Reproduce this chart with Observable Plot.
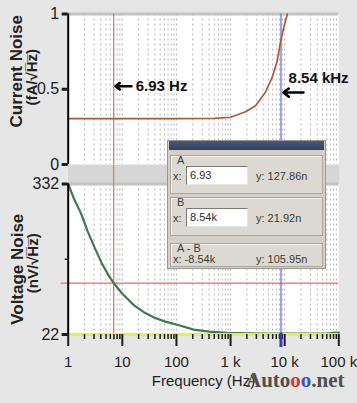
<!DOCTYPE html>
<html><head><meta charset="utf-8">
<script src="https://cdn.jsdelivr.net/npm/d3@7"></script>
<script src="https://cdn.jsdelivr.net/npm/@observablehq/plot@0.6"></script>
<style>
html,body{margin:0;padding:0;background:#e6e6e6;}
#wrap{position:relative;width:357px;height:403px;overflow:hidden;background:#e6e6e6;}
#top,#bot{position:absolute;left:0;}
#top{top:0;}
#bot{top:165px;}
#band{position:absolute;left:68px;top:164px;width:271px;height:19px;background:#d6d6d6;}
#dlg{position:absolute;left:167px;top:140px;width:159px;height:129px;background:#d4d0c8;border:1px solid #9a978f;box-sizing:border-box;
  font-family:"Liberation Sans Narrow","Arial Narrow","Liberation Sans",sans-serif;font-size:11px;color:#3a3a3a;}
#dlg .tb{position:absolute;left:1px;right:1px;top:0;height:9px;background:linear-gradient(#4a5878,#34415e);}
#dlg .sec{position:absolute;left:2px;right:2px;background:#dcd9d2;border:1px solid #a9a69e;box-shadow:inset 1px 1px 0 #f4f2ee;box-sizing:border-box;}
#dlg .t{position:absolute;line-height:11px;white-space:nowrap;}
#dlg .inp{position:absolute;left:15px;width:62px;height:19px;background:#fff;border:1px solid #7d7a73;border-right-color:#e8e6e0;border-bottom-color:#e8e6e0;box-sizing:border-box;line-height:17px;padding-left:3px;color:#2a2a2a;}
#wm{position:absolute;left:246px;top:370px;font-family:"Liberation Serif","DejaVu Serif",serif;font-weight:bold;font-size:21px;line-height:21px;color:#4e4e4e;white-space:nowrap;}
</style></head><body>
<div id="wrap">
  <div id="band"></div>
  <div id="top"></div>
  <div id="bot"></div>
  <div id="dlg"></div>
  <div id="wm"></div>
</div>
<script>
// ---- data ----
const freqTicks = [1, 10, 100, 1000, 10000, 100000];
const freqLabels = ["1", "10", "100", "1 k", "10 k", "100 k"];
const minorMultipliers = [2, 3, 4, 5, 6, 7, 8, 9];
const currentTicks = [0, 0.5, 1];
const currentTickLabels = ["0", "0.5", "1"];
const voltageTicks = [22, 332];
const voltageTickLabels = ["22", "332"];
const voltageMidTick = [177];

const currentFreq  = [1, 10, 100, 500, 1000, 1900, 2900, 4400, 5900, 7300, 8540, 9800, 11200];
const currentNoise = [0.305, 0.305, 0.305, 0.307, 0.314, 0.35, 0.39, 0.48, 0.58, 0.69, 0.83, 0.92, 1.0];

const voltageFreq  = [1, 1.3, 1.73, 2.3, 3.05, 4.2, 5.5, 6.93, 10, 16.5, 25, 38.6, 60, 104, 208, 400, 870, 2000, 5000, 10000, 30000, 60000, 80000, 100000];
const voltageNoise = [332, 300, 271, 234, 202, 168, 145, 128, 106, 82, 68, 57, 49, 42, 32, 28, 25.5, 24.5, 24, 24, 24, 24, 25.5, 26];

const cursorNames = ["A", "B"];
const cursorFreq = [6.93, 8540];
const cursorFreqText = ["6.93", "8.54k"];
const cursorVoltage = [127.86, 21.92];
const cursorVoltageText = ["127.86n", "21.92n"];
const deltaText = ["-8.54k", "105.95n"];
const annotationText = ["6.93 Hz", "8.54 kHz"];

// ---- derived tables ----
const minorTicks = freqTicks.slice(0, -1).flatMap(d => minorMultipliers.map(m => d * m));
const currentData = currentFreq.map((f, i) => ({f, v: currentNoise[i]}));
const voltageData = voltageFreq.map((f, i) => ({f, v: voltageNoise[i]}));
const arrows = [
  {x1: cursorFreq[0] * 2.13, x2: cursorFreq[0] * 1.08, y: 0.52, tx: cursorFreq[0] * 2.55, ty: 0.52, label: annotationText[0]},
  {x1: cursorFreq[1] * 2.6, x2: cursorFreq[1] * 1.11, y: 0.478, tx: cursorFreq[1] * 1.38, ty: 0.572, label: annotationText[1]}
];

const NARROW = '"Liberation Sans Narrow","Arial Narrow","Liberation Sans",sans-serif';
const SANS = '"Liberation Sans",Arial,sans-serif';
const W = 357, ML = 67.7, MR = 18.7;
const xOpt = {type: "log", domain: [1, 100000], axis: null};
const gridAll = minorTicks.concat(freqTicks.slice(1, -1));
const style = {background: "transparent", fontFamily: NARROW, fontSize: "15px", color: "#1c1c1c", overflow: "visible"};
const yLabel = {frameAnchor: "left", rotate: -90, textAnchor: "middle", fontWeight: "bold", fontFamily: SANS, fill: "#222"};

const topPlot = Plot.plot({
  width: W, height: 165, marginTop: 13.5, marginBottom: 1, marginLeft: ML, marginRight: MR,
  x: xOpt, y: {domain: [0, 1], axis: null}, style,
  marks: [
    Plot.frame({fill: "white", stroke: "none"}),
    Plot.gridX(gridAll, {stroke: "#b4b4b4", strokeOpacity: 1, strokeDasharray: "2,3"}),
    Plot.ruleY([1], {stroke: "#c4c4c4", strokeWidth: 3}),
    Plot.ruleX([cursorFreq[0]], {stroke: "#e06a6a", strokeWidth: 1.1}),
    Plot.ruleX([cursorFreq[1]], {stroke: "#6a6ad2", strokeWidth: 1.2}),
    Plot.line(currentData, {x: "f", y: "v", stroke: "#aa5a3e", strokeWidth: 1.7}),
    Plot.ruleX([1], {stroke: "black", strokeWidth: 2}),
    Plot.axisY({ticks: currentTicks, tickFormat: d => currentTickLabels[currentTicks.indexOf(d)], tickSize: 6, tickPadding: 3, strokeWidth: 3, fontSize: 16, label: null}),
    Plot.arrow(arrows, {x1: "x1", y1: "y", x2: "x2", y2: "y", stroke: "black", strokeWidth: 2.6, headLength: 7, headAngle: 75}),
    Plot.text(arrows, {x: "tx", y: "ty", text: "label", textAnchor: "start", fontWeight: "bold", fontSize: 15, fill: "#111"}),
    Plot.text(["Current Noise"], {...yLabel, fontSize: 17, dx: -52, dy: -18}),
    Plot.text(["(fA/√H\u0305z\u0305)"], {...yLabel, fontSize: 15, dx: -36.5, dy: -12})
  ]
});
document.getElementById("top").append(topPlot);

const botPlot = Plot.plot({
  width: W, height: 238, marginTop: 18.5, marginBottom: 69, marginLeft: ML, marginRight: MR,
  x: xOpt, y: {domain: [22, 332], axis: null}, style,
  marks: [
    Plot.frame({fill: "white", stroke: "none"}),
    Plot.gridX(gridAll, {stroke: "#b4b4b4", strokeOpacity: 1, strokeDasharray: "2,3"}),
    Plot.ruleY([332], {stroke: "#c4c4c4", strokeWidth: 3}),
    Plot.ruleY([cursorVoltage[0]], {stroke: "#e46a6a", strokeWidth: 1.2, insetLeft: -7}),
    Plot.ruleX([cursorFreq[0]], {stroke: "#e06a6a", strokeWidth: 1.1, insetTop: -19, insetBottom: -6}),
    Plot.ruleX([cursorFreq[1]], {stroke: "#6a6ad2", strokeWidth: 1.2, insetTop: -19, insetBottom: -13}),
    Plot.line(voltageData, {x: "f", y: "v", stroke: "#3f7a52", strokeWidth: 2.2}),
    Plot.ruleY([voltageTicks[0]], {stroke: "#eded4a", strokeWidth: 3, insetLeft: -7}),
    Plot.ruleX([1], {stroke: "black", strokeWidth: 2}),
    Plot.axisX({ticks: freqTicks, tickFormat: d => freqLabels[freqTicks.indexOf(d)], tickSize: 12, tickPadding: 10, strokeWidth: 2, fontSize: 15, label: null}),
    Plot.axisX({ticks: minorTicks, tickFormat: () => "", tickSize: 5, strokeWidth: 1.5, label: null}),
    Plot.ruleX([cursorFreq[1]], {stroke: "#3a3aa8", strokeWidth: 3, insetTop: 149, insetBottom: -13}),
    Plot.axisY({ticks: voltageTicks, tickFormat: d => voltageTickLabels[voltageTicks.indexOf(d)], tickSize: 6, tickPadding: 3, strokeWidth: 3, fontSize: 16, label: null}),
    Plot.axisY({ticks: voltageMidTick, tickFormat: () => "", tickSize: 3, strokeWidth: 1.5, label: null}),
    Plot.text(["Voltage Noise"], {...yLabel, fontSize: 17, dx: -51, dy: 10}),
    Plot.text(["(nV/√H\u0305z\u0305)"], {...yLabel, fontSize: 15, dx: -35.5, dy: 4}),
    Plot.text(["Frequency (Hz)"], {frameAnchor: "bottom", dy: 51, fontSize: 15, fill: "#222"})
  ]
});
document.getElementById("bot").append(botPlot);

// ---- cursor readout dialog ----
const dlg = document.getElementById("dlg");
function el(parent, cls, css, text) {
  const d = document.createElement("div");
  d.className = cls; d.style.cssText = css; if (text != null) d.textContent = text;
  parent.append(d); return d;
}
el(dlg, "tb", "");
const secTops = [14, 56];
cursorNames.forEach((name, i) => {
  const s = el(dlg, "sec", `top:${secTops[i]}px;height:39px;`);
  el(s, "t", "left:6px;top:-1px;", name);
  el(s, "t", "left:2px;top:15px;", "x:");
  el(s, "inp", "top:10px;", cursorFreqText[i]);
  el(s, "t", "left:85px;top:15px;", "y: " + cursorVoltageText[i]);
});
const sd = el(dlg, "sec", "top:102px;height:24px;");
el(sd, "t", "left:6px;top:-1px;", cursorNames.join(" - "));
el(sd, "t", "left:2px;top:10px;", "x: " + deltaText[0]);
el(sd, "t", "left:85px;top:10px;", "y: " + deltaText[1]);

// ---- watermark ----
document.getElementById("wm").innerHTML = 'Auto<span style="color:#d23a3a">o</span><span style="color:#3a4fd0">o</span>.net';
</script>
</body></html>
